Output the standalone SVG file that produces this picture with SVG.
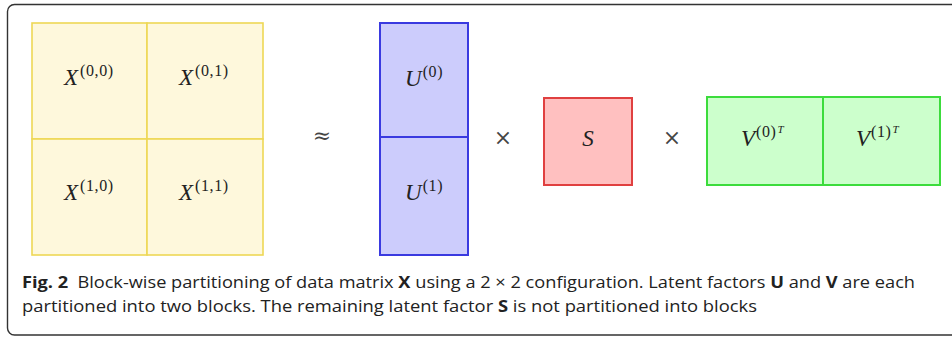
<svg xmlns="http://www.w3.org/2000/svg" width="952" height="337" viewBox="0 0 952 337">
<style>
.m{font-family:"Liberation Serif","DejaVu Serif",serif;font-style:italic;font-size:23px;fill:#222}
.sup{font-style:normal;font-size:16px;letter-spacing:0.6px}
.t{font-style:italic;font-size:11px}
.op{font-family:"DejaVu Serif","Liberation Serif",serif;font-size:22px;fill:#444}
.xc{fill:#fef8dc;stroke:#eed755;stroke-width:1.6}
.uc{fill:#ccccfc;stroke:#3a3ae0;stroke-width:2}
.sc{fill:#ffc0c0;stroke:#e04040;stroke-width:2}
.vc{fill:#ccffcc;stroke:#3cdc3c;stroke-width:2}
.cap{font-family:"Open Sans","Noto Sans",sans-serif;font-size:16px;fill:#222}
.b{font-weight:bold}
</style>
<rect x="7.5" y="4.5" width="960" height="330.5" rx="7" fill="#fff" stroke="#333" stroke-width="1.4"/>
<g id="X">
<g id="X00"><rect class="xc" x="32" y="23" width="115" height="116"/><text class="m" x="64" y="85">X<tspan class="sup" dx="2" dy="-9">(0,0)</tspan></text></g>
<g id="X01"><rect class="xc" x="147" y="23" width="116" height="116"/><text class="m" x="179" y="85">X<tspan class="sup" dx="2" dy="-9">(0,1)</tspan></text></g>
<g id="X10"><rect class="xc" x="32" y="139" width="115" height="116"/><text class="m" x="64" y="200">X<tspan class="sup" dx="2" dy="-9">(1,0)</tspan></text></g>
<g id="X11"><rect class="xc" x="147" y="139" width="116" height="116"/><text class="m" x="179" y="200">X<tspan class="sup" dx="2" dy="-9">(1,1)</tspan></text></g>
</g>
<g id="approx"><text class="op" x="322" y="143" text-anchor="middle">≈</text></g>
<g id="U">
<g id="U0"><rect class="uc" x="380" y="23" width="88" height="114"/><text class="m" x="405" y="86">U<tspan class="sup" dx="1" dy="-9">(0)</tspan></text></g>
<g id="U1"><rect class="uc" x="380" y="137" width="88" height="118"/><text class="m" x="405" y="200">U<tspan class="sup" dx="1" dy="-9">(1)</tspan></text></g>
</g>
<g id="times1"><text class="op" x="503" y="145" text-anchor="middle">×</text></g>
<g id="S"><rect class="sc" x="544" y="98" width="88" height="87"/><text class="m" x="588" y="146" text-anchor="middle">S</text></g>
<g id="times2"><text class="op" x="672" y="145" text-anchor="middle">×</text></g>
<g id="V">
<g id="V0"><rect class="vc" x="707" y="97" width="116" height="88"/><text class="m" x="741" y="146">V<tspan class="sup" dx="1" dy="-9">(0)</tspan><tspan class="t" dx="1" dy="-4">T</tspan></text></g>
<g id="V1"><rect class="vc" x="823" y="97" width="117" height="88"/><text class="m" x="856" y="146">V<tspan class="sup" dx="1" dy="-9">(1)</tspan><tspan class="t" dx="1" dy="-4">T</tspan></text></g>
</g>
<g id="caption">
<text class="cap" x="22" y="288" textLength="893" lengthAdjust="spacingAndGlyphs"><tspan class="b">Fig. 2</tspan><tspan dx="4"> Block-wise partitioning of data matrix </tspan><tspan class="b">X</tspan> using a 2 × 2 configuration. Latent factors <tspan class="b">U</tspan> and <tspan class="b">V</tspan> are each</text>
<text class="cap" x="22" y="312" textLength="735" lengthAdjust="spacingAndGlyphs">partitioned into two blocks. The remaining latent factor <tspan class="b">S</tspan> is not partitioned into blocks</text>
</g>
</svg>
